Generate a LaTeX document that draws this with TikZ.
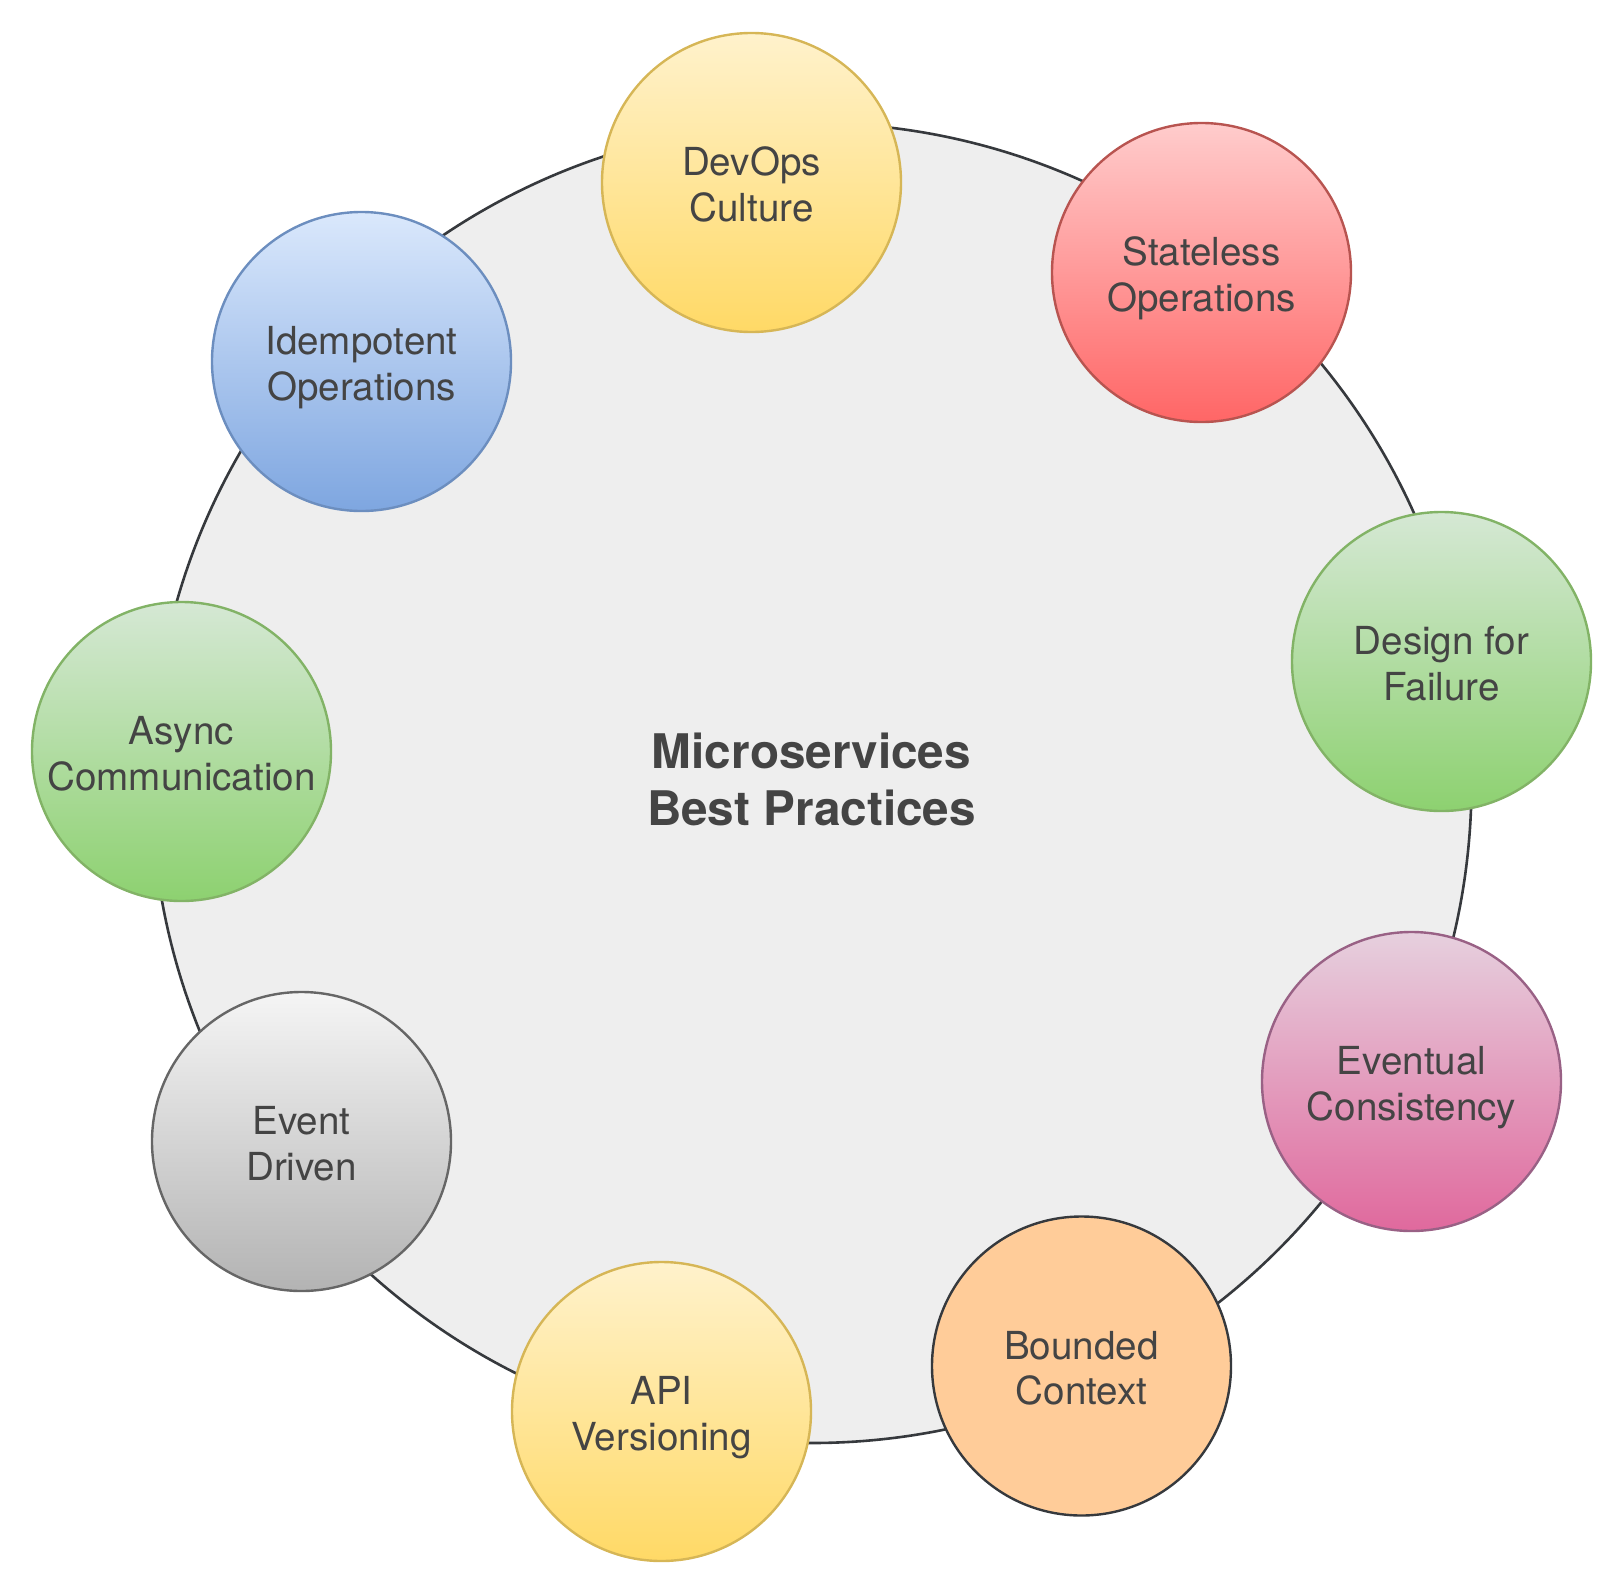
\documentclass[tikz,border=0pt]{standalone}
\usepackage{fontspec}
\setmainfont{TeX Gyre Heros}
\definecolor{txt}{HTML}{444444}
\definecolor{yelT}{HTML}{FFF2CC}
\definecolor{yelB}{HTML}{FFD966}
\definecolor{yelS}{HTML}{D6B656}
\definecolor{redT}{HTML}{FFCCCC}
\definecolor{redB}{HTML}{FF6666}
\definecolor{redS}{HTML}{B85450}
\definecolor{bluT}{HTML}{DAE8FC}
\definecolor{bluB}{HTML}{7EA6E0}
\definecolor{bluS}{HTML}{6C8EBF}
\definecolor{grnT}{HTML}{D5E8D4}
\definecolor{grnB}{HTML}{8DD170}
\definecolor{grnS}{HTML}{82B366}
\definecolor{pnkT}{HTML}{E6D0DE}
\definecolor{pnkB}{HTML}{E0699D}
\definecolor{pnkS}{HTML}{996185}
\definecolor{gryT}{HTML}{F5F5F5}
\definecolor{gryB}{HTML}{B3B3B3}
\definecolor{gryS}{HTML}{666666}
\definecolor{orgF}{HTML}{FFCC99}
\definecolor{darkS}{HTML}{36393D}
\definecolor{hubF}{HTML}{EEEEEE}
\newcommand{\lstrut}{\rule[-8.4pt]{0pt}{48.8pt}}
\newcommand{\tstrut}{\rule[-12.4pt]{0pt}{52.4pt}}
\setlength{\lineskiplimit}{-1000pt}
\begin{document}
\begin{tikzpicture}[x=1pt,y=-1pt,
  item/.style={circle, minimum size=299pt, inner sep=0pt, line width=2.4pt,
    align=center, text=txt, font=\fontsize{38.6}{45.3}\selectfont},
  hub/.style={circle, minimum size=1320pt, inner sep=0pt, line width=2.6pt,
    draw=darkS, fill=hubF, align=center, text=txt,
    font=\fontsize{47.7}{57}\selectfont\bfseries},
  yel/.style={item, draw=yelS, top color=yelT, bottom color=yelB},
  red/.style={item, draw=redS, top color=redT, bottom color=redB},
  blu/.style={item, draw=bluS, top color=bluT, bottom color=bluB},
  grn/.style={item, draw=grnS, top color=grnT, bottom color=grnB},
  pnk/.style={item, draw=pnkS, top color=pnkT, bottom color=pnkB},
  gry/.style={item, draw=gryS, top color=gryT, bottom color=gryB},
  org/.style={item, draw=darkS, fill=orgF}]
\useasboundingbox (0,0) rectangle (1623,1593);
\node[hub] (hub) at (811.5,783) {\tstrut Microservices\\\tstrut Best Practices};
\node[yel] (devops) at (751.5,182.5) {\lstrut DevOps\\\lstrut Culture};
\node[red] (stateless) at (1201.5,272.5) {\lstrut Stateless\\\lstrut Operations};
\node[grn] (failure) at (1441.5,661.5) {\lstrut Design for\\\lstrut Failure};
\node[pnk] (eventual) at (1411.5,1081.5) {\lstrut Eventual\\\lstrut Consistency};
\node[org] (bounded) at (1081.5,1366) {\lstrut Bounded\\\lstrut Context};
\node[yel] (api) at (661.5,1411.5) {\lstrut API\\\lstrut Versioning};
\node[gry] (event) at (301.5,1141.5) {\lstrut Event\\\lstrut Driven};
\node[grn] (async) at (181.5,751.5) {\lstrut Async\\\lstrut Communication};
\node[blu] (idem) at (361.5,361.5) {\lstrut Idempotent\\\lstrut Operations};
\end{tikzpicture}
\end{document}
